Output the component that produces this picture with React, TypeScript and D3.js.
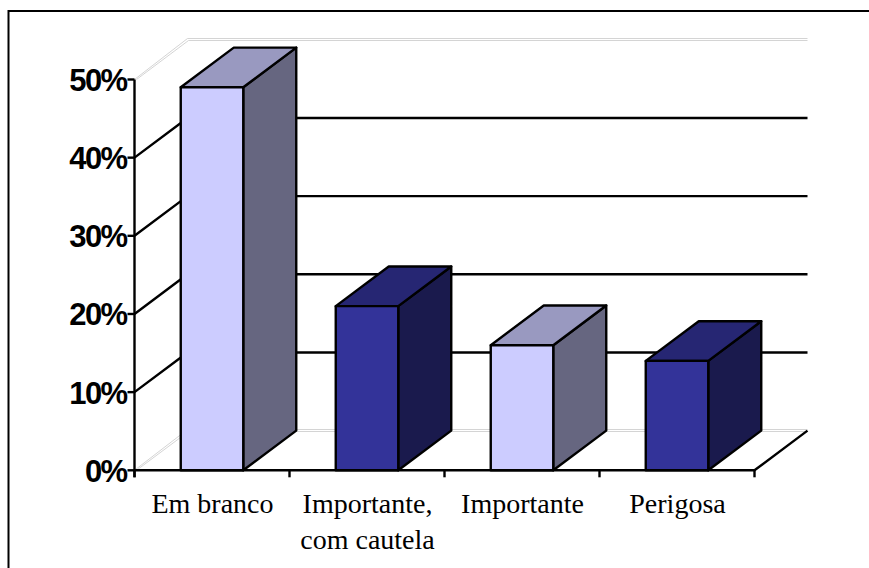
import React from "react";
import * as d3 from "d3";

// Response shares, in percent, one bar per answer
const categories = ["Em branco", "Importante,\ncom cautela", "Importante", "Perigosa"];
const shares = [49, 21, 16, 14];
const yTicks = [0, 10, 20, 30, 40, 50];

// Bars alternate between the two fills; top and side faces are darker shades
const frontFills = ["#CCCCFF", "#333399", "#CCCCFF", "#333399"];
const topFills = ["#9999C0", "#262673", "#9999C0", "#262673"];
const sideFills = ["#666680", "#1A1A4D", "#666680", "#1A1A4D"];

const FLOOR_Y = 470.3;
const TOP_Y = 79.5;
const LEFT_X = 134.5;
const RIGHT_X = 754.5;
const DEPTH_X = 53;
const DEPTH_Y = -39.7;

const y = d3.scaleLinear().domain([0, 50]).range([FLOOR_Y, TOP_Y]);
const x = d3.scaleBand<number>().domain(d3.range(categories.length)).range([LEFT_X, RIGHT_X]);
const BAR_W = 62.5;
const LINE_W = 2.4;

const path = (pts: [number, number][]) => d3.line()(pts) + "Z";

export default function App() {
  return (
    <svg
      width={869}
      height={568}
      style={{ position: "absolute", left: 0, top: 0, background: "#fff" }}
    >
      {/* Frame: only the top and left edges fall inside the canvas */}
      <path d="M869,11 H8.5 V568" fill="none" stroke="#000" strokeWidth={2} />

      {/* Walls: black gridlines, with grey double lines at the floor and ceiling */}
      {yTicks.map((t) => {
        const yy = y(t);
        const pts = `M${LEFT_X},${yy} L${LEFT_X + DEPTH_X},${yy + DEPTH_Y} H${RIGHT_X + DEPTH_X}`;
        if (t === 0 || t === 50) {
          return (
            <g key={t} fill="none" stroke="#cfcfcf" strokeWidth={0.9}>
              <path d={`M${LEFT_X},${yy} L${LEFT_X + DEPTH_X},${Math.round(yy + DEPTH_Y) - 1.5} H${RIGHT_X + DEPTH_X}`} />
              <path d={`M${LEFT_X + 2},${yy} L${LEFT_X + DEPTH_X + 1},${Math.round(yy + DEPTH_Y) + 0.5} H${RIGHT_X + DEPTH_X}`} />
            </g>
          );
        }
        return <path key={t} d={pts} fill="none" stroke="#000" strokeWidth={LINE_W} />;
      })}

      {/* Value axis */}
      <line x1={LEFT_X} x2={LEFT_X} y1={y(50)} y2={FLOOR_Y + 7} stroke="#000" strokeWidth={LINE_W} />
      {yTicks.map((t) => (
        <g key={t}>
          <line x1={LEFT_X - 7} x2={LEFT_X} y1={y(t)} y2={y(t)} stroke="#000" strokeWidth={LINE_W} />
          <text
            x={126.5}
            y={y(t) + 11.5}
            textAnchor="end"
            fontFamily="'Liberation Sans', Arial, sans-serif"
            fontWeight="bold"
            fontSize={31}
            letterSpacing={-1.6}
            fill="#000"
          >
            {t}%
          </text>
        </g>
      ))}

      {/* Floor edges and category ticks */}
      <path
        d={`M${LEFT_X},${FLOOR_Y} H${RIGHT_X} L${RIGHT_X + DEPTH_X},${FLOOR_Y + DEPTH_Y}`}
        fill="none"
        stroke="#000"
        strokeWidth={LINE_W}
      />
      {d3.range(categories.length + 1).map((i) => {
        const tx = LEFT_X + i * x.step();
        return <line key={i} x1={tx} x2={tx} y1={FLOOR_Y} y2={FLOOR_Y + 7} stroke="#000" strokeWidth={LINE_W} />;
      })}

      {/* Bars as three-faced prisms */}
      {shares.map((v, i) => {
        const x0 = x(i)! + (x.bandwidth() - BAR_W) / 2;
        const x1 = x0 + BAR_W;
        const yt = y(v);
        return (
          <g key={i} stroke="#000" strokeWidth={LINE_W} strokeLinejoin="round">
            <path
              d={path([
                [x1, yt],
                [x1 + DEPTH_X, yt + DEPTH_Y],
                [x1 + DEPTH_X, FLOOR_Y + DEPTH_Y],
                [x1, FLOOR_Y],
              ])}
              fill={sideFills[i]}
            />
            <path
              d={path([
                [x0, yt],
                [x0 + DEPTH_X, yt + DEPTH_Y],
                [x1 + DEPTH_X, yt + DEPTH_Y],
                [x1, yt],
              ])}
              fill={topFills[i]}
            />
            <rect x={x0} y={yt} width={BAR_W} height={FLOOR_Y - yt} fill={frontFills[i]} />
          </g>
        );
      })}

      {/* Category labels */}
      {categories.map((c, i) => (
        <text
          key={c}
          textAnchor="middle"
          fontFamily="'Liberation Serif', 'Times New Roman', serif"
          fontSize={28}
          fill="#000"
        >
          {c.split("\n").map((part, j) => (
            <tspan key={j} x={x(i)! + x.bandwidth() / 2 + 0.5} y={513 + j * 35.5}>
              {part}
            </tspan>
          ))}
        </text>
      ))}
    </svg>
  );
}
